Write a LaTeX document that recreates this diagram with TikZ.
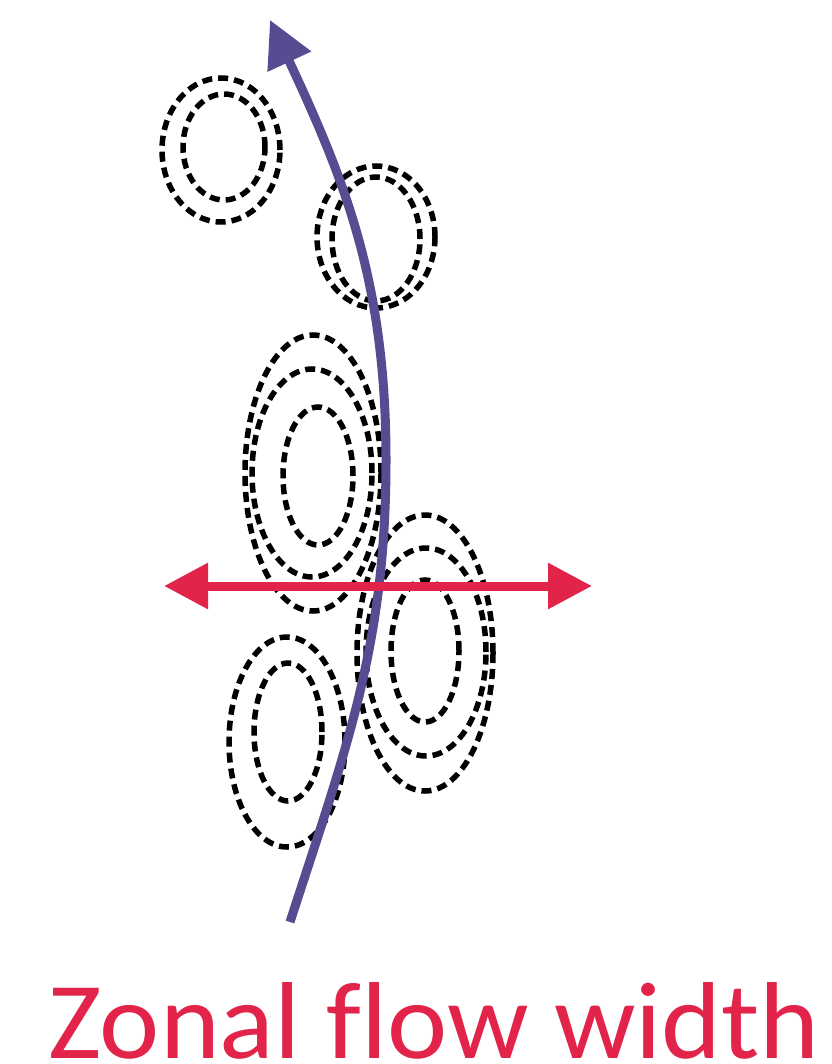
\documentclass[tikz,border=0pt]{standalone}
\usepackage{fontspec}
\setmainfont{Carlito}[Ligatures=NoCommon]
\usetikzlibrary{arrows.meta}
\definecolor{flowpurple}{RGB}{89,75,145}
\definecolor{widthred}{RGB}{226,35,74}

\begin{document}
\begin{tikzpicture}[
  x=1pt, y=-1pt,
  vortex/.style={draw=black, line width=5.5pt, dash pattern=on 10pt off 6pt},
  flow/.style={draw=flowpurple, line width=9pt, -{Triangle[length=46pt, width=46pt]}},
  width arr/.style={draw=widthred, line width=9pt, {Triangle[length=44pt, width=44pt]}-{Triangle[length=44pt, width=44pt]}},
  caption/.style={text=widthred, font=\fontsize{114}{120}\selectfont, inner sep=0pt, anchor=base west}
]
\useasboundingbox (0,0) rectangle (831,1064);

% vortex pairs
\draw[vortex] (221,150) ellipse [x radius=59pt, y radius=72pt];
\draw[vortex] (224,147) ellipse [x radius=41pt, y radius=53pt];
\draw[vortex] (376,237) ellipse [x radius=59pt, y radius=71pt];
\draw[vortex] (376,239) ellipse [x radius=44pt, y radius=62pt];
\draw[vortex] (313,473) ellipse [x radius=68pt, y radius=138pt];
\draw[vortex] (312,473) ellipse [x radius=60pt, y radius=104pt];
\draw[vortex] (318,476) ellipse [x radius=35pt, y radius=69pt];
\draw[vortex] (425,653) ellipse [x radius=68pt, y radius=138pt];
\draw[vortex] (426,652) ellipse [x radius=60pt, y radius=104pt];
\draw[vortex] (425,651) ellipse [x radius=34pt, y radius=71pt];
\draw[vortex] (287,742) ellipse [x radius=58pt, y radius=105pt];
\draw[vortex] (288,732) ellipse [x radius=34pt, y radius=69pt];

% zonal flow
\coordinate (flow start) at (290,922);
\coordinate (flow mid) at (386,460);
\coordinate (flow end) at (270,20);
\draw[flow] (flow start) .. controls (347,746) and (386,645) .. (flow mid)
  .. controls (386,282) and (345,181) .. (flow end);

% width
\coordinate (w left) at (164,586);
\coordinate (w right) at (592,586);
\draw[width arr] (w left) -- (w right);

\node[caption] (title) at (48,1058) {\resizebox{772pt}{76pt}{Zonal flow width}};
\end{tikzpicture}
\end{document}
